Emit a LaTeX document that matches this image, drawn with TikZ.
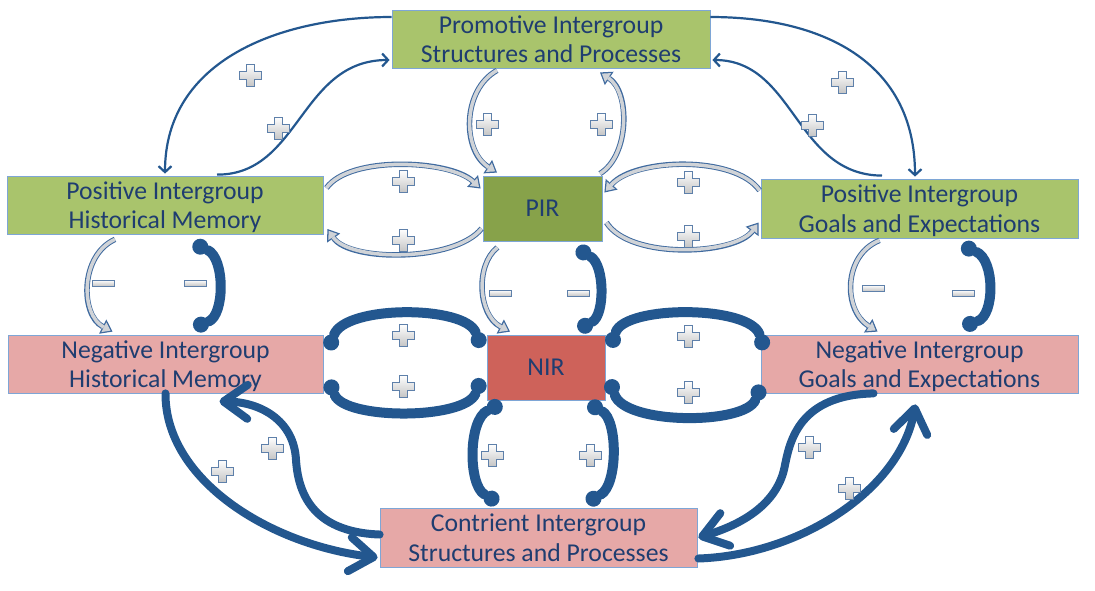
\documentclass[tikz,border=0pt]{standalone}
\usepackage{fontspec}
\setmainfont{Carlito}
\usetikzlibrary{arrows.meta,calc}
\definecolor{lgreen}{HTML}{A9C46C}
\definecolor{dgreen}{HTML}{87A24A}
\definecolor{lpink}{HTML}{E6A8A7}
\definecolor{dred}{HTML}{CE625A}
\definecolor{bordc}{HTML}{7EA6D6}
\definecolor{txtc}{HTML}{1F3D70}
\definecolor{arrc}{HTML}{23578F}
\definecolor{hgray}{HTML}{D0D3D7}
\definecolor{hblue}{HTML}{3F6A9F}
\definecolor{plusc}{HTML}{5E80AA}
\tikzset{
  box/.style={draw=bordc, line width=0.8pt, inner sep=0pt, align=center, text depth=0pt,
    font=\fontsize{25.7}{29.5}\selectfont, text=txtc},
  thinarr/.style={draw=arrc, line width=2.2pt, -{Straight Barb[length=6pt,width=13pt]}},
  hout/.style={draw=hblue, line width=5.5pt, -{Triangle[length=11pt,width=16pt,line width=0pt]}},
  hin/.style={draw=hgray, line width=3.5pt, shorten >=2.2pt, -{Triangle[length=7.5pt,width=11pt,line width=0pt]}},
  bracket/.style={draw=arrc, line width=10pt, line cap=round,
    {Circle[length=16pt,width=16pt,line width=0pt]}-{Circle[length=16pt,width=16pt,line width=0pt]}},
  bigarr/.style={draw=arrc, line width=8pt, line cap=round, -{Straight Barb[length=24pt,width=34pt,round]}},
  plussign/.pic={\draw[draw=plusc, line width=0.7pt, top color=white, bottom color=gray!45]
    (-4,-11) -- (4,-11) -- (4,-4) -- (11,-4) -- (11,4) -- (4,4) -- (4,11) -- (-4,11) -- (-4,4) -- (-11,4) -- (-11,-4) -- (-4,-4) -- cycle;},
  minussign/.pic={\draw[draw=plusc, line width=0.7pt, top color=white, bottom color=gray!45]
    (-11,-3) rectangle (11,3);}
}
\newcommand\hollowpath[1]{\draw[hout] #1; \draw[hin] #1;}
\begin{document}
\begin{tikzpicture}[x=1pt,y=-1pt]
\useasboundingbox (0,0) rectangle (1095,590);
% nodes
\node[box, fill=lgreen, minimum width=318pt, minimum height=58pt] (Prom) at (551,39) {Promotive Intergroup\\Structures and Processes};
\node[box, fill=lgreen, minimum width=316pt, minimum height=58pt] (PosHM) at (165,205) {Positive Intergroup\\Historical Memory};
\node[box, fill=dgreen, minimum width=119pt, minimum height=65pt] (PIR) at (542.5,208.5) {PIR};
\node[box, fill=lgreen, minimum width=317pt, minimum height=59pt] (PosG) at (919.5,208.5) {Positive Intergroup\\Goals and Expectations};
\node[box, fill=lpink, minimum width=315pt, minimum height=58pt] (NegHM) at (165.5,364) {Negative Intergroup\\Historical Memory};
\node[box, fill=dred, minimum width=118pt, minimum height=65pt] (NIR) at (546,367.5) {NIR};
\node[box, fill=lpink, minimum width=317pt, minimum height=58pt] (NegG) at (919.5,364) {Negative Intergroup\\Goals and Expectations};
\node[box, fill=lpink, minimum width=317pt, minimum height=59pt] (Contr) at (538.5,537.5) {Contrient Intergroup\\Structures and Processes};

% thin arrows
\draw[thinarr] ($(Prom.west)+(0,-22)$) .. controls (280,17) and (165,60) .. ($(PosHM.north)+(0,-2)$);
\draw[thinarr] ($(PosHM.north)+(52,-1)$) .. controls (300,175) and (300,60) .. ($(Prom.west)+(-2,21)$);
\draw[thinarr] ($(Prom.east)+(0,-22)$) .. controls (820,17) and (915,60) .. ($(PosG.north)+(-4.5,-2)$);
\draw[thinarr] ($(PosG.north)+(-37.5,-3)$) .. controls (795,175) and (795,60) .. ($(Prom.east)+(2,21)$);

% hollow arrows
\hollowpath{($(Prom.south)+(-54,2)$) .. controls (462,90) and (462,150) .. ($(PIR.north)+(-45.5,-3)$)}
\hollowpath{($(PIR.north)+(57.5,-2)$) .. controls (630,155) and (630,92) .. ($(Prom.south)+(49,4)$)}
\hollowpath{($(PosHM.east)+(3,-17)$) .. controls (350,155) and (450,160) .. ($(PIR.west)+(-2,-20)$)}
\hollowpath{($(PIR.west)+(-1,20)$) .. controls (455,262) and (350,262) .. ($(PosHM.east)+(4,24)$)}
\hollowpath{($(PosG.west)+(-1,-18)$) .. controls (735,155) and (635,158) .. ($(PIR.east)+(2,-16)$)}
\hollowpath{($(PIR.east)+(4,14)$) .. controls (630,260) and (735,255) .. ($(PosG.west)+(-2,14)$)}
\hollowpath{($(PosHM.south)+(-50,5)$) .. controls (80,255) and (80,315) .. ($(NegHM.north)+(-53,-3)$)}
\hollowpath{($(PIR.south)+(-45,6)$) .. controls (475,265) and (478,315) .. ($(NIR.north)+(-36,-3)$)}
\hollowpath{($(PosG.south)+(-40,2)$) .. controls (843,255) and (843,310) .. ($(NegG.north)+(-42,-3)$)}

% thick brackets
\draw[bracket] ($(PosHM.south)+(28,9)$) .. controls (225,258) and (225,315) .. ($(NegHM.north)+(28,-7)$);
\draw[bracket] ($(PIR.south)+(34,7)$) .. controls (605,265) and (605,315) .. ($(NIR.north)+(32,-5)$);
\draw[bracket] ($(PosG.south)+(42,7)$) .. controls (995,260) and (995,315) .. ($(NegG.north)+(43,-8)$);
\draw[bracket] ($(NegHM.east)+(5,-14)$) .. controls (345,305) and (465,305) .. ($(NIR.west)+(-5,-20)$);
\draw[bracket] ($(NegHM.east)+(5,16)$) .. controls (345,420) and (465,420) .. ($(NIR.west)+(-5,11)$);
\draw[bracket] ($(NIR.east)+(5,-20)$) .. controls (625,305) and (750,305) .. ($(NegG.west)+(4,-14)$);
\draw[bracket] ($(NIR.east)+(4,12)$) .. controls (625,425) and (745,425) .. ($(NegG.west)+(1,21)$);
\draw[bracket] ($(NIR.south)+(-44,3)$) .. controls (468,420) and (468,485) .. ($(Contr.north)+(-40,-5)$);
\draw[bracket] ($(NIR.south)+(42,3)$) .. controls (618,420) and (618,485) .. ($(Contr.north)+(48,-5)$);

% big arrows
\draw[bigarr] (NegHM.south) .. controls (165,480) and (270,545) .. ($(Contr.west)+(-2,20)$);
\draw[bigarr] ($(Contr.west)+(0,-3)$) .. controls (310,532) and (298,490) .. (296,460) .. controls (294,420) and (260,402) .. ($(NegHM.south)+(54,8)$);
\draw[bigarr] ($(NegG.south)+(-46,0)$) .. controls (800,395) and (790,440) .. (785,465) .. controls (778,505) and (740,525) .. ($(Contr.east)+(1,0)$);
\draw[bigarr] ($(Contr.east)+(1,21)$) .. controls (800,555) and (900,490) .. ($(NegG.south)+(-4,11)$);

% plus signs
\foreach \p in {(250,75),(278,128),(842,82),(812,125),(487,124),(601,124),(403,181),(403,240),(688,182),(688,236),(403,335),(403,386),(688,336),(688,392),(492,455),(590,455),(222,471),(272,448),(809,447),(849,488)}
  \pic at \p {plussign};
% minus signs
\foreach \p in {(103,283),(195,283),(500,293),(578,293),(873,288),(963,293)}
  \pic at \p {minussign};
\end{tikzpicture}
\end{document}
